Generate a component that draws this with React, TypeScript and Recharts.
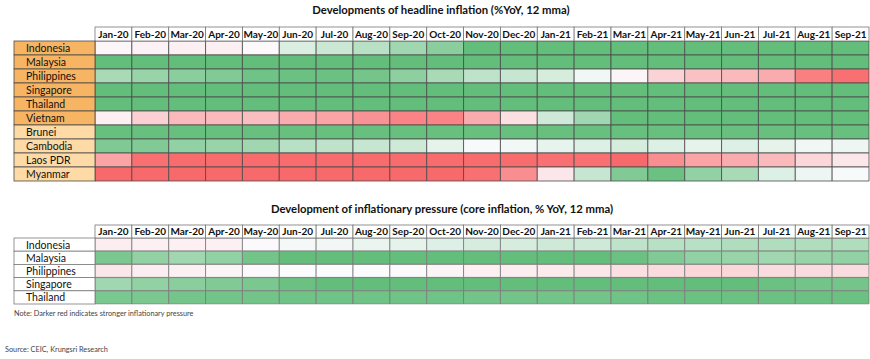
import { BarChart, Bar, XAxis, YAxis, Cell } from "recharts";

const MONTHS = [
  "Jan-20", "Feb-20", "Mar-20", "Apr-20", "May-20", "Jun-20", "Jul-20", "Aug-20", "Sep-20",
  "Oct-20", "Nov-20", "Dec-20", "Jan-21", "Feb-21", "Mar-21", "Apr-21", "May-21", "Jun-21",
  "Jul-21", "Aug-21", "Sep-21",
];

// score: -1 = strongest green (low pressure), 0 = white, 1 = strongest red
const HEADLINE_COUNTRIES = [
  "Indonesia", "Malaysia", "Philippines", "Singapore", "Thailand",
  "Vietnam", "Brunei", "Cambodia", "Laos PDR", "Myanmar",
];
const headlineIndonesia = [0.04, 0.07, 0.08, 0.08, 0.02, -0.22, -0.32, -0.45, -0.6, -0.75, -1, -1, -1, -1, -1, -1, -1, -1, -1, -1, -1];
const headlineMalaysia = [-1, -1, -1, -1, -1, -1, -1, -1, -1, -1, -1, -1, -1, -1, -1, -1, -1, -1, -1, -1, -1];
const headlinePhilippines = [-0.55, -0.65, -0.75, -0.8, -0.92, -0.95, -0.95, -0.88, -0.72, -0.55, -0.4, -0.35, -0.25, -0.08, 0.05, 0.28, 0.4, 0.45, 0.55, 0.85, 0.95];
const headlineSingapore = [-1, -1, -1, -1, -1, -1, -1, -1, -1, -1, -1, -1, -1, -1, -1, -1, -1, -1, -1, -1, -1];
const headlineThailand = [-1, -1, -1, -1, -1, -1, -1, -1, -1, -1, -1, -1, -1, -1, -1, -1, -1, -1, -1, -1, -1];
const headlineVietnam = [0.08, 0.3, 0.45, 0.45, 0.42, 0.55, 0.6, 0.72, 0.82, 0.82, 0.55, 0.2, -0.3, -0.6, -1, -1, -1, -1, -1, -1, -1];
const headlineBrunei = [-0.97, -0.97, -0.97, -0.97, -0.97, -0.97, -0.97, -0.97, -0.97, -0.97, -0.97, -0.97, -0.97, -0.97, -0.97, -0.97, -0.97, -0.97, -0.97, -0.97, -0.97];
const headlineCambodia = [-0.82, -0.8, -0.7, -0.65, -0.6, -0.45, -0.4, -0.35, -0.3, -0.15, -0.04, -0.07, -0.14, -0.2, -0.25, -0.2, -0.15, -0.2, -0.15, -0.08, -0.1];
const headlineLaos = [0.6, 0.95, 0.98, 0.98, 0.98, 0.98, 0.98, 0.98, 0.98, 0.98, 0.98, 0.98, 0.95, 0.95, 1, 0.75, 0.6, 0.55, 0.45, 0.25, 0.15];
const headlineMyanmar = [1, 1, 1, 1, 1, 1, 1, 1, 1, 1, 0.95, 0.75, 0.15, -0.35, -0.8, -0.95, -0.7, -0.55, -0.2, -0.1, -0.03];
const HEADLINE_SCORES = [
  headlineIndonesia, headlineMalaysia, headlinePhilippines, headlineSingapore, headlineThailand,
  headlineVietnam, headlineBrunei, headlineCambodia, headlineLaos, headlineMyanmar,
];

const CORE_COUNTRIES = ["Indonesia", "Malaysia", "Philippines", "Singapore", "Thailand"];
const coreIndonesia = [0.1, 0.08, 0.08, 0.08, 0.02, -0.05, -0.08, -0.12, -0.15, -0.2, -0.25, -0.25, -0.3, -0.3, -0.4, -0.45, -0.45, -0.5, -0.5, -0.5, -0.5];
const coreMalaysia = [-0.85, -0.7, -0.6, -0.7, -0.9, -1, -1, -1, -1, -1, -1, -1, -1, -1, -0.95, -0.8, -0.7, -0.65, -0.6, -0.65, -0.7];
const corePhilippines = [0.15, 0.1, 0.08, 0.05, 0.02, 0, 0, 0, 0.02, 0.05, 0.08, 0.1, 0.12, 0.15, 0.2, 0.22, 0.25, 0.25, 0.22, 0.22, 0.22];
const coreSingapore = [-0.6, -0.7, -0.75, -0.8, -0.85, -0.95, -1, -1, -1, -1, -1, -1, -1, -1, -1, -1, -1, -1, -0.95, -0.9, -0.88];
const coreThailand = [-0.85, -0.85, -0.88, -0.9, -0.9, -0.92, -0.92, -0.92, -0.92, -0.92, -0.9, -0.9, -0.9, -0.9, -0.92, -0.95, -0.95, -0.95, -0.95, -0.95, -0.95];
const CORE_SCORES = [coreIndonesia, coreMalaysia, corePhilippines, coreSingapore, coreThailand];

const FONT = "Lato, 'Open Sans', sans-serif";

function mix(a: number[], b: number[], t: number) {
  const c = a.map((v, i) => Math.round(v + (b[i] - v) * t));
  return `rgb(${c[0]},${c[1]},${c[2]})`;
}

function colour(v: number) {
  const white = [252, 252, 255];
  if (v < 0) return mix(white, [99, 190, 123], Math.min(1, -v));
  return mix(white, [248, 105, 107], Math.min(1, v));
}

type TableProps = {
  countries: string[];
  scores: number[][];
  width: number;
  height: number;
  top: number;
  headerH: number;
  bottom: number;
  labelFill: (i: number) => string;
  border: string;
};

function HeatTable({ countries, scores, width, height, top, headerH, bottom, labelFill, border }: TableProps) {
  const labelLeft = 14;
  const labelW = 81;
  const rows = countries.map((c) => {
    const r: Record<string, string | number> = { country: c };
    MONTHS.forEach((m) => (r[m] = 1));
    return r;
  });
  const plotW = width - labelLeft - labelW - 1;
  const colW = plotW / MONTHS.length;
  const rowH = (height - top - bottom) / countries.length;

  const HeaderTick = (props: any) => {
    const { x, payload } = props;
    const label = MONTHS[Math.floor(payload.value)];
    return (
      <g>
        <rect x={x - colW / 2} y={top - headerH} width={colW} height={headerH} fill="#fff" stroke="#777" strokeWidth={0.8} />
        <text x={x} y={top - headerH / 2 + 3.5} textAnchor="middle" fontSize={10} fontWeight={700} fill="#111" fontFamily={FONT}>
          {label}
        </text>
      </g>
    );
  };

  const LabelTick = (props: any) => {
    const { y, payload, index } = props;
    return (
      <g>
        <rect x={labelLeft} y={y - rowH / 2} width={labelW} height={rowH} fill={labelFill(index)} stroke={border} strokeWidth={0.8} />
        <text x={labelLeft + 12} y={y + 4} fontSize={10.5} fill="#111" fontFamily={FONT}>
          {payload.value}
        </text>
      </g>
    );
  };

  return (
    <BarChart
      width={width}
      height={height}
      data={rows}
      layout="vertical"
      barCategoryGap={0}
      margin={{ top: top - headerH, right: 1, bottom, left: labelLeft }}
    >
      <XAxis
        type="number"
        orientation="top"
        domain={[0, MONTHS.length]}
        ticks={MONTHS.map((_, j) => j + 0.5)}
        interval={0}
        height={headerH}
        axisLine={false}
        tickLine={false}
        tick={HeaderTick}
      />
      <YAxis
        type="category"
        dataKey="country"
        width={labelW}
        axisLine={false}
        tickLine={false}
        interval={0}
        tick={LabelTick}
      />
      {MONTHS.map((m, j) => (
        <Bar key={m} dataKey={m} stackId="cells" isAnimationActive={false}>
          {rows.map((_, i) => (
            <Cell key={i} fill={colour(scores[i][j])} stroke={border} strokeWidth={0.8} />
          ))}
        </Bar>
      ))}
    </BarChart>
  );
}

export default function App() {
  return (
    <div style={{ position: "absolute", left: 0, top: 0, width: 870, height: 359, background: "#fff", fontFamily: FONT }}>
      <div style={{ position: "absolute", top: 3, left: 0, width: 882, textAlign: "center", fontSize: 11.3, fontWeight: 700, color: "#111" }}>
        Developments of headline inflation (%YoY, 12 mma)
      </div>
      <div style={{ position: "absolute", top: 0, left: 0 }}>
        <HeatTable
          countries={HEADLINE_COUNTRIES}
          scores={HEADLINE_SCORES}
          width={870}
          height={190}
          top={41}
          headerH={14}
          bottom={9}
          labelFill={(i) => (i < 6 ? "#F7B462" : "#FDDAA6")}
          border="#4a4a4a"
        />
      </div>
      <div style={{ position: "absolute", top: 202, left: 0, width: 884, textAlign: "center", fontSize: 11.3, fontWeight: 700, color: "#111" }}>
        Development of inflationary pressure (core inflation, % YoY, 12 mma)
      </div>
      <div style={{ position: "absolute", top: 195, left: 0 }}>
        <HeatTable
          countries={CORE_COUNTRIES}
          scores={CORE_SCORES}
          width={870}
          height={115}
          top={43}
          headerH={13}
          bottom={6}
          labelFill={() => "#fff"}
          border="#7a7a7a"
        />
      </div>
      <div style={{ position: "absolute", top: 309, left: 14, fontSize: 7.3, color: "#444" }}>
        Note: Darker red indicates stronger inflationary pressure
      </div>
      <div style={{ position: "absolute", top: 345, left: 5, fontSize: 7.3, color: "#444" }}>
        Source: CEIC, Krungsri Research
      </div>
    </div>
  );
}
